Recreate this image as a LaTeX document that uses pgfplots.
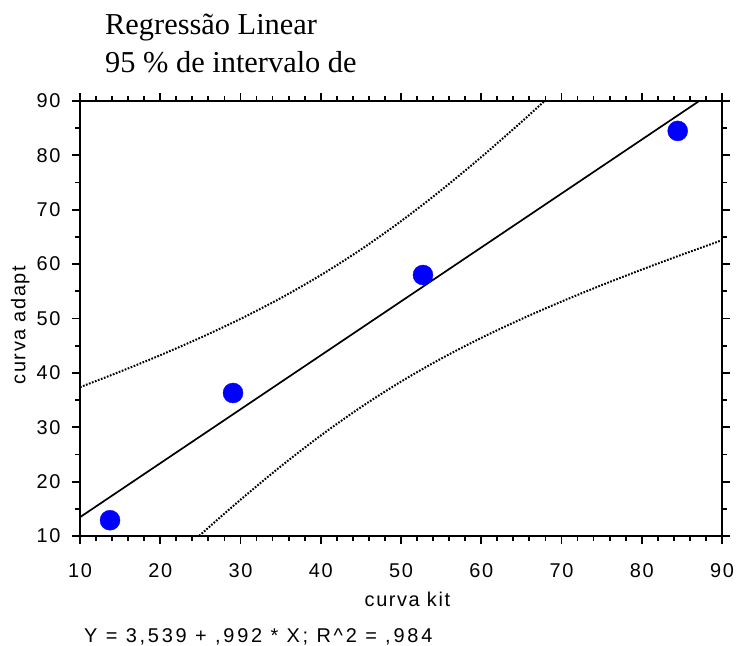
\documentclass[border=0pt]{standalone}
\usepackage{fontspec}
\setmainfont{Liberation Serif}
\setsansfont{Liberation Sans}[LetterSpace=8]
\usepackage{pgfplots}
\usepackage{pgfplotstable}
\pgfplotsset{compat=1.18}

% observed pairs
\pgfplotstableread{
x     y
13.74 12.9
29.07 36.3
52.74 58.0
84.48 84.5
}\pointsdata

% 95% confidence band, upper limit
\pgfplotstableread{
x  y
10 37.37
15 40.23
20 43.25
25 46.46
30 49.93
35 53.74
40 57.97
45 62.68
50 67.89
55 73.58
60 79.69
65 86.14
70 92.85
75 99.75
}\bandupper

% 95% confidence band, lower limit
\pgfplotstableread{
x  y
10 -10.45
15 -3.39
20 3.51
25 10.22
30 16.67
35 22.78
40 28.47
45 33.68
50 38.39
55 42.62
60 46.43
65 49.90
70 53.11
75 56.13
80 58.99
85 61.74
90 64.40
}\bandlower

\begin{document}
\begin{tikzpicture}
\useasboundingbox (0,0) rectangle (741bp,646bp);
\begin{axis}[
  at={(80bp,110bp)}, anchor=south west,
  scale only axis, width=642bp, height=435bp,
  xmin=10, xmax=90, ymin=10, ymax=90,
  xtick={10,20,...,90}, ytick={10,20,...,90},
  minor x tick num=4, minor y tick num=1,
  tick pos=both, xticklabel pos=left, yticklabel pos=left,
  tick align=outside,
  major tick length=8bp, minor tick length=5bp,
  every tick/.style={black, line width=1.8bp},
  axis line style={line width=1.9bp},
  /pgf/number format/assume math mode=true,
  ticklabel style={font=\sffamily\fontsize{20}{24}\selectfont},
  xticklabel style={yshift=-16bp},
  yticklabel style={xshift=-8bp},
  xlabel={curva kit}, ylabel={curva adapt},
  label style={font=\sffamily\fontsize{20}{24}\selectfont},
  xlabel style={at={(axis description cs:0.510,-0.163)}, anchor=base},
  ylabel style={at={(axis description cs:-0.085,0.485)}, anchor=base},
]
  \addplot[black, line width=2bp, dash pattern=on 1.7bp off 1.5bp, smooth] table {\bandupper};
  \addplot[black, line width=2bp, dash pattern=on 1.7bp off 1.5bp, smooth] table {\bandlower};
  % fitted line Y = 3.539 + 0.992 X
  \addplot[black, line width=1.7bp] coordinates {(10,13.459) (90,92.819)};
  \addplot[only marks, mark=*, mark size=10bp, mark options={fill=blue, draw=blue}] table {\pointsdata};
\end{axis}
\node[anchor=base west, inner sep=0, font=\fontsize{30.5}{36}\selectfont] at (105bp,611bp) {Regressão Linear};
\node[anchor=base west, inner sep=0, font=\fontsize{30.5}{36}\selectfont] at (105bp,573bp) {95 \% de intervalo de};
\node[anchor=base west, inner sep=0, font=\sffamily\fontsize{20}{24}\selectfont\addfontfeatures{LetterSpace=14}] at (84bp,3.5bp) {Y = 3,539 + ,992 * X; R\textasciicircum 2 = ,984};
\end{tikzpicture}
\end{document}
